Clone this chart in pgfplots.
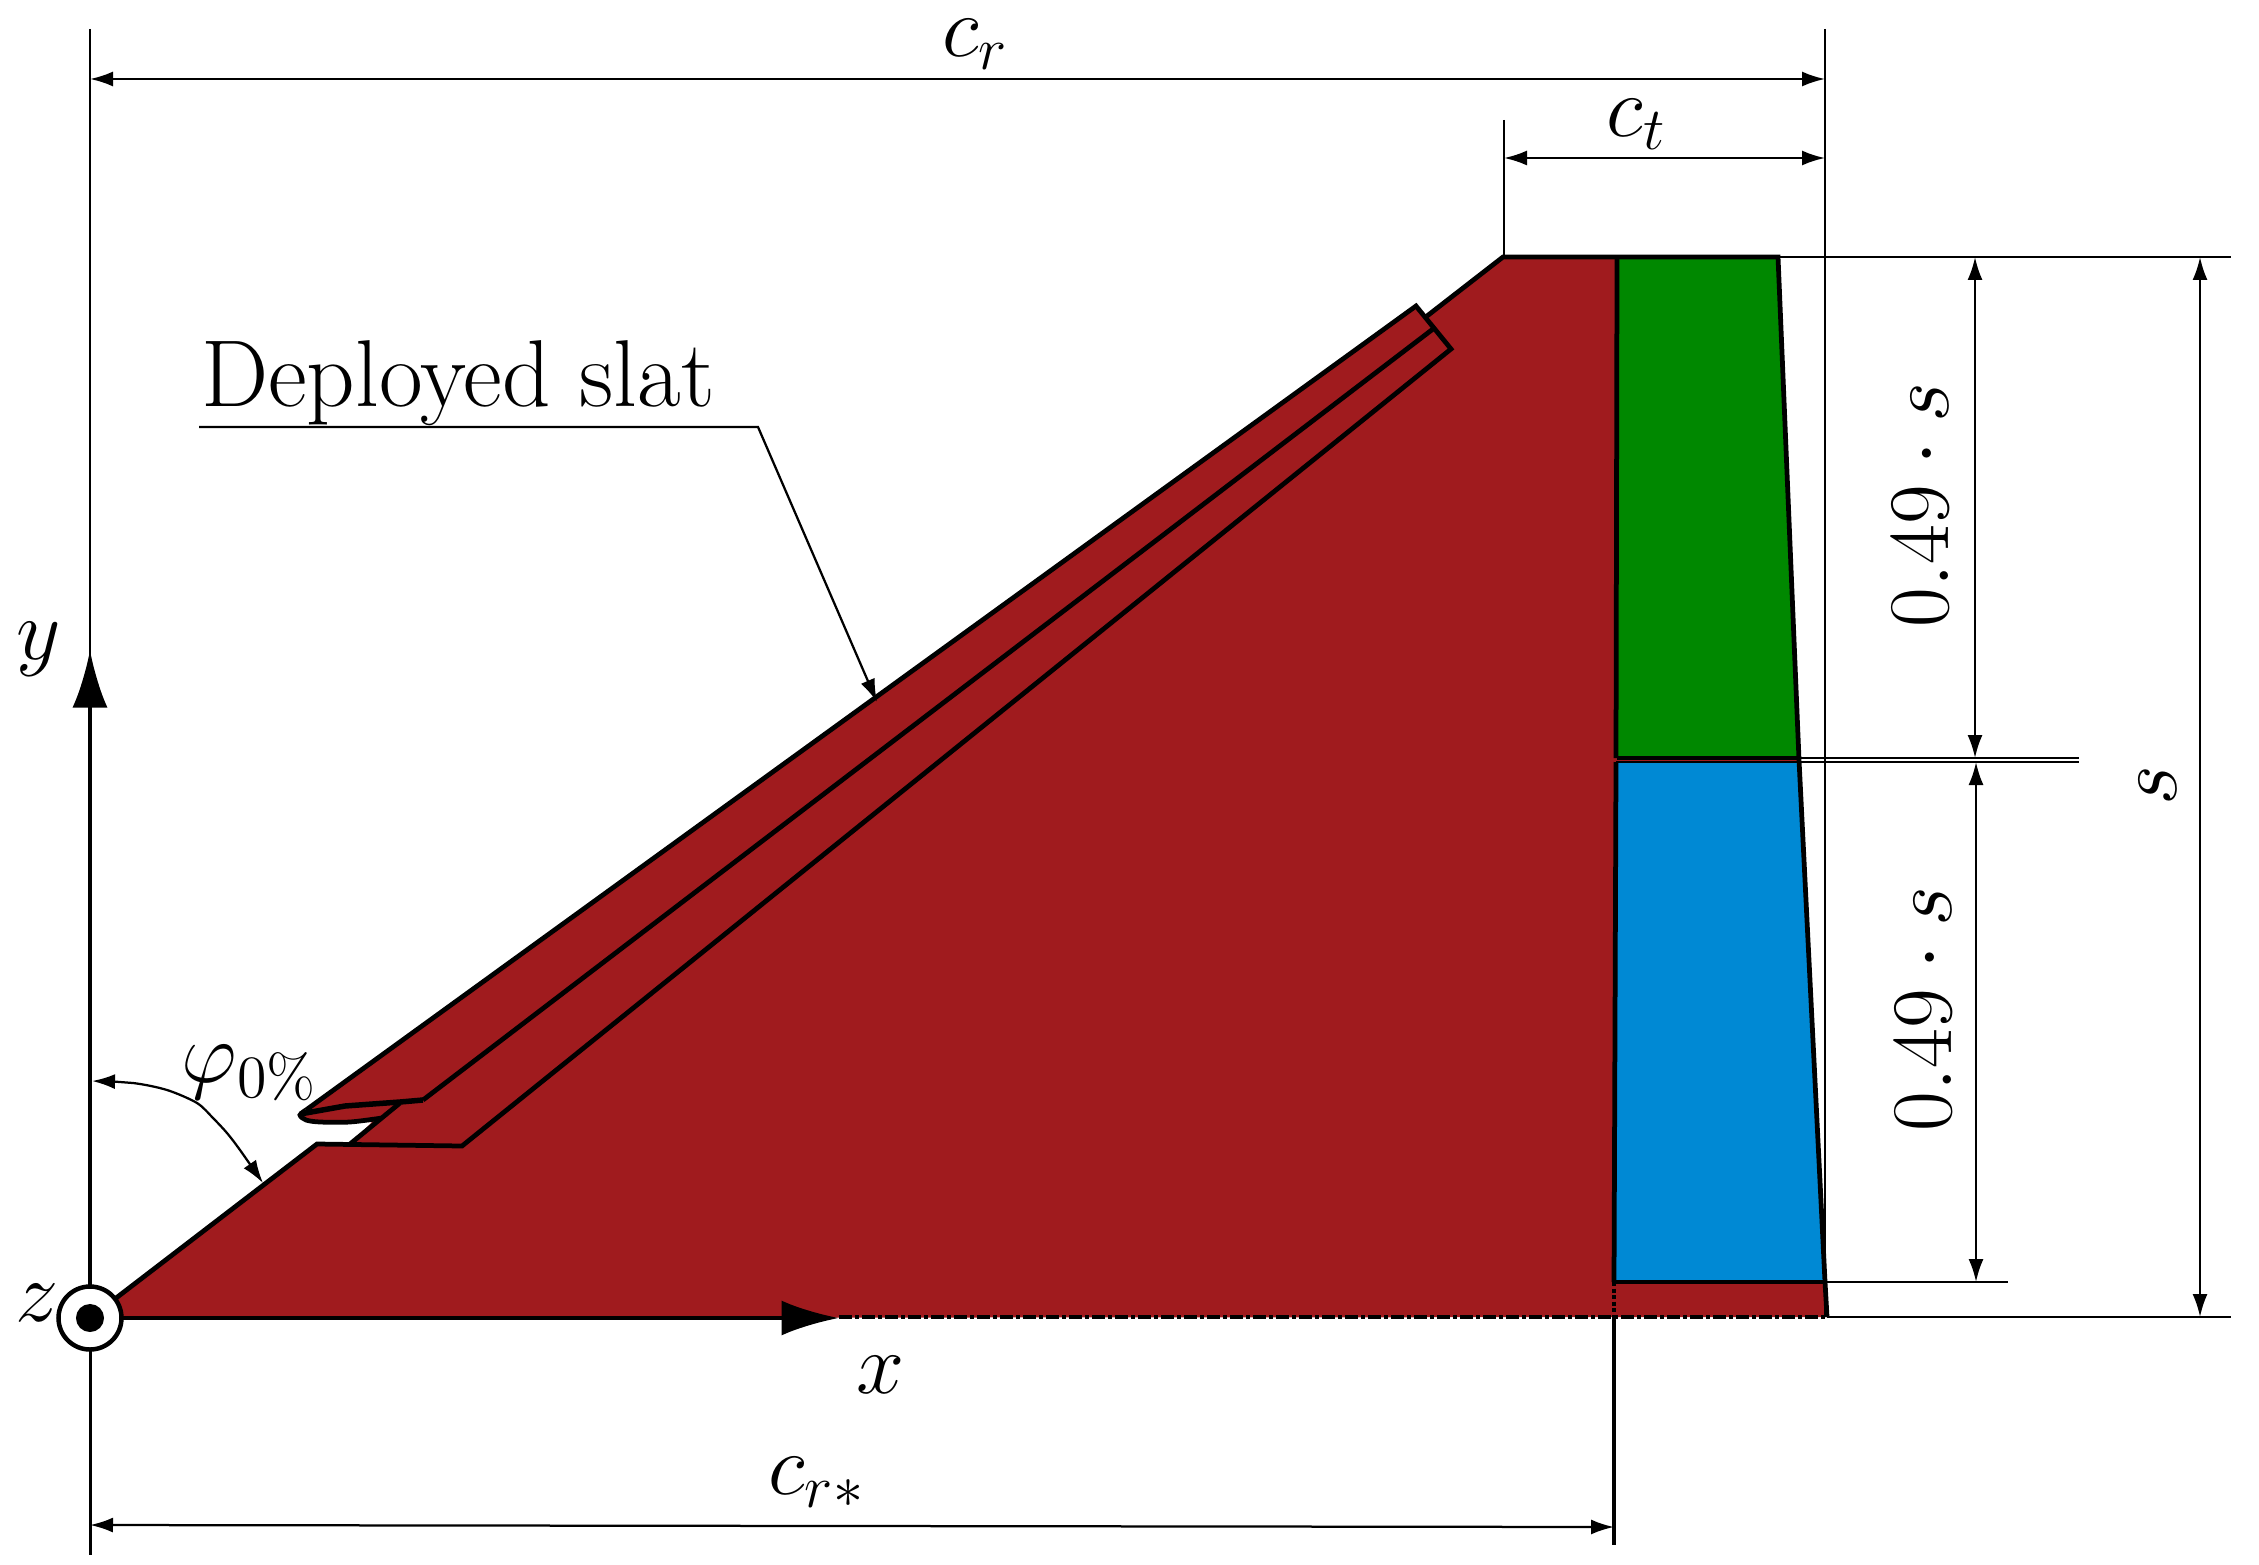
\documentclass[border=0pt]{standalone}
\usepackage{pgfplots}
\pgfplotsset{compat=1.18}
\usetikzlibrary{arrows.meta}
\definecolor{wingred}{RGB}{160,27,30}
\definecolor{winggreen}{RGB}{0,136,0}
\definecolor{wingblue}{RGB}{0,137,212}
\tikzset{
  dim/.style={line width=0.45pt,{Latex[length=4.6pt,width=3pt]}-{Latex[length=4.6pt,width=3pt]}},
  ext/.style={line width=0.3pt},
  edge/.style={line width=0.95pt},
  bigarrow/.style={line width=0.9pt,-{Latex[length=11.5pt,width=7pt]}},
  lab/.style={font=\fontsize{17}{20}\selectfont,inner sep=0pt},
}
\begin{document}
\begin{tikzpicture}
\begin{axis}[
  scale only axis,width=451.8pt,height=312.8pt,
  xmin=0,xmax=2259,ymin=0,ymax=1564,y dir=reverse,
  axis lines=none,clip=false,
]
% keeps the page as large as the axis box
\addplot[draw=none] coordinates {(0,0) (2259,0) (2259,1564) (0,1564)};
% fills
\addplot[draw=none,fill=wingred] coordinates {
  (90,1318) (317,1144) (350,1144) (372,1122) (320,1122) (306,1120) (300,1115) (306,1110)
  (1416,306) (1427,316) (1503,257) (1778,257) (1799,760) (1825,1282) (1827,1317)};
\addplot[draw=none,fill=winggreen] coordinates {(1617,257) (1778,257) (1798,758) (1617,758)};
\addplot[draw=none,fill=wingblue] coordinates {(1616,762) (1799,762) (1823,1282) (1614,1282)};
% wing outline
\addplot[edge] coordinates {(90,1318) (317,1144) (462,1146) (1451,349) (1416,306) (306,1110)};
\addplot[edge,smooth] coordinates {(306,1110) (300,1115) (306,1120) (320,1122) (350,1122) (382,1118)};
\addplot[line width=1.1pt] coordinates {(423,1100) (400,1102) (345,1106) (300,1114)};
\addplot[edge] coordinates {(350,1144) (400,1103)};
\addplot[edge] coordinates {(423,1100) (1433,329)};
\addplot[edge] coordinates {(1427,316) (1503,257) (1778,257) (1799,760) (1825,1282) (1827,1317)};
\addplot[edge] coordinates {(1617,257) (1616,758)};
\addplot[edge] coordinates {(1616,762) (1614,1282)};
\addplot[edge] coordinates {(1617,758) (1799,758)};
\addplot[line width=0.5pt] coordinates {(1616,762) (1799,762)};
\addplot[edge] coordinates {(1614,1282) (1825,1282)};
\addplot[edge,dash pattern=on 0.8pt off 0.5pt] coordinates {(1614,1282) (1614,1317)};
\addplot[edge,dash pattern=on 2.6pt off 0.6pt on 0.8pt off 0.6pt] coordinates {(839,1317) (1827,1317)};
% extension lines
\addplot[ext] coordinates {(90,29) (90,655)};
\addplot[ext] coordinates {(1825,29) (1825,1317)};
\addplot[ext] coordinates {(1504,120) (1504,257)};
\addplot[ext] coordinates {(1778,257) (2231,257)};
\addplot[ext] coordinates {(1827,1317) (2231,1317)};
\addplot[ext] coordinates {(1825,1282) (2008,1282)};
\addplot[ext] coordinates {(1800,758) (2079,758)};
\addplot[ext] coordinates {(1800,762) (2079,762)};
\addplot[line width=0.6pt] coordinates {(90,1350) (90,1555)};
\addplot[line width=0.8pt] coordinates {(1614,1317) (1614,1545)};
% dimension arrows
\addplot[dim] coordinates {(90,79) (1825,79)};
\addplot[dim] coordinates {(1504,158) (1825,158)};
\addplot[dim] coordinates {(90,1525) (1614,1527)};
\addplot[dim] coordinates {(1975,257) (1975,758)};
\addplot[dim] coordinates {(1976,762) (1976,1282)};
\addplot[dim] coordinates {(2200,257) (2200,1317)};
\addplot[line width=0.45pt,{Latex[length=4.6pt,width=3pt]}-{Latex[length=4.6pt,width=3pt]},smooth]
  coordinates {(92,1081) (133,1083) (167,1090) (197,1103) (213,1118) (227,1133) (240,1150) (263,1183)};
% leader
\addplot[line width=0.45pt,-{Latex[length=4.6pt,width=3pt]}] coordinates {(199,427) (758,427) (877,702)};
% coordinate axes
\addplot[bigarrow] coordinates {(90,1318) (90,650)};
\addplot[bigarrow] coordinates {(90,1318) (839,1318)};
\addplot[only marks,mark=*,mark size=6.3pt,mark options={fill=white,draw=black,line width=0.9pt}] coordinates {(90,1318)};
\addplot[only marks,mark=*,mark size=2.6pt,mark options={fill=black,draw=black}] coordinates {(90,1318)};
% labels
\node[lab] at (axis cs:976,44) {$c_r$};
\node[lab] at (axis cs:1637,124) {$c_t$};
\node[lab] at (axis cs:817,1482) {$c_{r*}$};
\node[lab] at (axis cs:881,1375) {$x$};
\node[lab] at (axis cs:39,649) {$y$};
\node[lab] at (axis cs:37,1303) {$z$};
\node[lab] at (axis cs:250,1073) {$\varphi_{0\%}$};
\node[lab,anchor=base west] at (axis cs:200,406) {\fontsize{19}{22}\selectfont Deployed slat};
\node[lab,rotate=90] at (axis cs:1921,505) {$0.49\cdot s$};
\node[lab,rotate=90] at (axis cs:1924,1009) {$0.49\cdot s$};
\node[lab,rotate=90] at (axis cs:2158,786) {$s$};
\end{axis}
\end{tikzpicture}
\end{document}
